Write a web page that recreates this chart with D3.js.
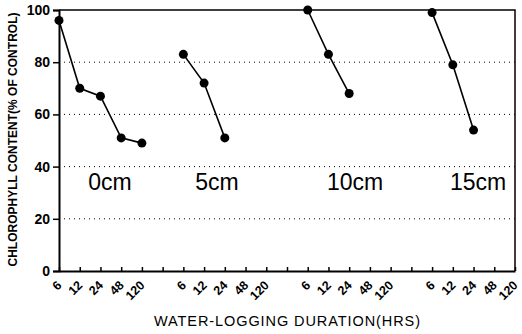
<!DOCTYPE html>
<html>
<head>
<meta charset="utf-8">
<script src="https://cdn.jsdelivr.net/npm/d3@7"></script>
<style>
  body { margin: 0; background: #fff; }
  svg { display: block; font-family: "Liberation Sans", Arial, sans-serif; }
</style>
</head>
<body>
<svg id="chart" width="522" height="334"></svg>
<script>
const depths = ["0cm", "5cm", "10cm", "15cm"];
const durations = ["6", "12", "24", "48", "120"];
const yTicks = [0, 20, 40, 60, 80, 100];

// chlorophyll (% of control) per depth, in duration order
const values0 = [96, 70, 67, 51, 49];
const values5 = [83, 72, 51];
const values10 = [100, 83, 68];
const values15 = [99, 79, 54];
const seriesValues = [values0, values5, values10, values15];

const W = 522, H = 334;
const M = { left: 59, right: 7, top: 10, bottom: 63 };

const svg = d3.select("#chart");

// x positions: each depth gets 5 slots, one empty slot between groups
const keys = [];
depths.forEach((dep, i) => {
  durations.forEach(d => keys.push(dep + "|" + d));
  if (i < depths.length - 1) keys.push("gap" + i);
});

const x = d3.scalePoint().domain(keys).range([M.left, W - M.right]);
const y = d3.scaleLinear().domain([0, 100]).range([H - M.bottom, M.top]);

// dotted grid
svg.append("g")
  .selectAll("line")
  .data(yTicks.filter(t => t > 0 && t < 100))
  .enter().append("line")
  .attr("x1", M.left).attr("x2", W - M.right)
  .attr("y1", d => y(d)).attr("y2", d => y(d))
  .attr("stroke", "#000")
  .attr("stroke-width", 1)
  .attr("stroke-dasharray", "1,4");

// frame top and right
svg.append("path")
  .attr("d", `M${M.left},${y(100)}H${W - M.right}V${y(0)}`)
  .attr("fill", "none")
  .attr("stroke", "#000")
  .attr("stroke-width", 1.5);

// y axis
const yAxis = svg.append("g")
  .attr("transform", `translate(${M.left},0)`)
  .call(d3.axisLeft(y).tickValues(yTicks).tickSize(6).tickPadding(3));
yAxis.select(".domain").attr("stroke-width", 2);
yAxis.selectAll(".tick line").attr("stroke-width", 1.5);
yAxis.selectAll("text")
  .style("font-size", "14px")
  .style("font-weight", "bold")
  .attr("fill", "#000");

// x axis
const xAxis = svg.append("g")
  .attr("transform", `translate(0,${y(0)})`)
  .call(d3.axisBottom(x).tickSize(-4).tickSizeOuter(0).tickPadding(0)
    .tickFormat(k => k.startsWith("gap") ? "" : k.split("|")[1]));
xAxis.select(".domain").attr("stroke-width", 2);
xAxis.selectAll(".tick line").attr("stroke-width", 1.5);
xAxis.selectAll("text")
  .style("font-size", "12.5px")
  .style("font-weight", "bold")
  .attr("fill", "#000")
  .attr("text-anchor", "end")
  .attr("dy", null)
  .attr("transform", "translate(3,15) rotate(-45)");

// series lines and markers
const line = d3.line().x(d => x(d.key)).y(d => y(d.v));
seriesValues.forEach((vals, i) => {
  const pts = vals.map((v, j) => ({ key: depths[i] + "|" + durations[j], v }));
  svg.append("path")
    .datum(pts)
    .attr("d", line)
    .attr("fill", "none")
    .attr("stroke", "#000")
    .attr("stroke-width", 1.6);
  svg.append("g")
    .selectAll("circle")
    .data(pts)
    .enter().append("circle")
    .attr("cx", d => x(d.key))
    .attr("cy", d => y(d.v))
    .attr("r", 4.5)
    .attr("fill", "#000");
});

// depth labels
const labelX = [110, 217, 355, 478];
svg.append("g")
  .selectAll("text")
  .data(depths)
  .enter().append("text")
  .attr("x", (d, i) => labelX[i])
  .attr("y", y(31))
  .attr("text-anchor", "middle")
  .style("font-size", "23px")
  .text(d => d);

// axis titles
svg.append("text")
  .attr("transform", `translate(17,${(12 + 267) / 2}) rotate(-90)`)
  .attr("text-anchor", "middle")
  .attr("textLength", 254)
  .attr("lengthAdjust", "spacing")
  .style("font-size", "12px")
  .style("font-weight", "bold")
  .text("CHLOROPHYLL CONTENT(% OF CONTROL)");

svg.append("text")
  .attr("x", 287)
  .attr("y", 326)
  .attr("text-anchor", "middle")
  .attr("textLength", 266)
  .attr("lengthAdjust", "spacing")
  .style("font-size", "14.5px")
  .text("WATER-LOGGING DURATION(HRS)");
</script>
</body>
</html>
